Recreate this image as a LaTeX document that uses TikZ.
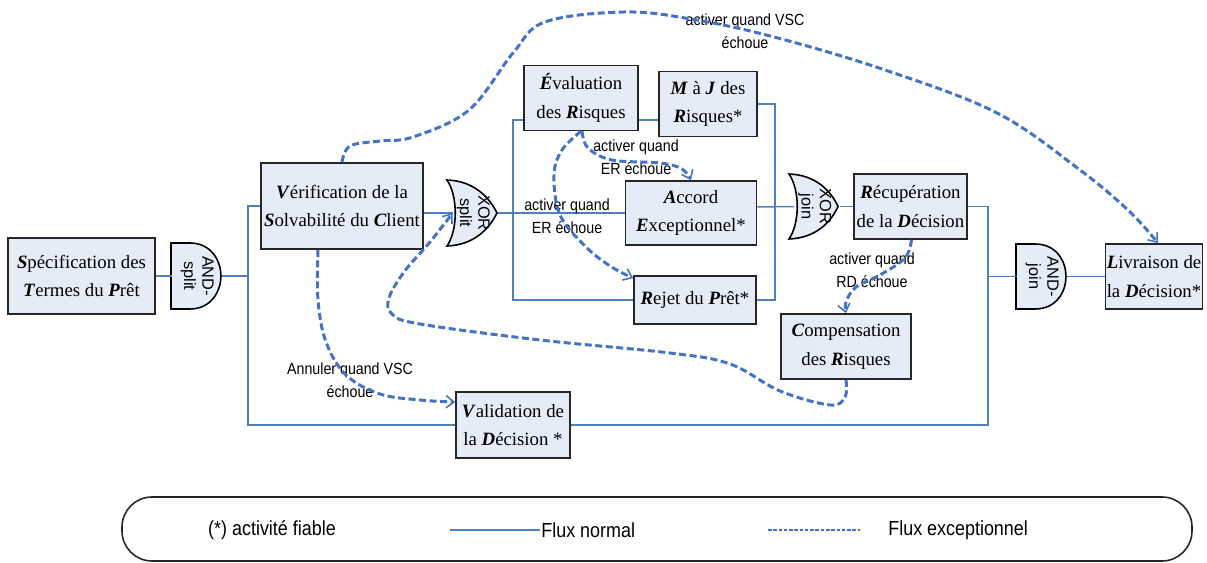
\documentclass[tikz,border=0pt]{standalone}
\usepackage{fontspec}
\setmainfont{Liberation Serif}
\newfontfamily\labfont{Liberation Sans}
\newfontfamily\narrowfont[FakeStretch=0.88]{Liberation Sans}
\usetikzlibrary{arrows.meta,calc}
\definecolor{boxfill}{RGB}{229,236,247}
\definecolor{flow}{RGB}{79,129,189}
\definecolor{exflow}{RGB}{68,114,196}
\newcommand{\bi}[1]{\textbf{\textit{#1}}}
\tikzset{
 act/.style={draw=black!85, line width=0.9pt, fill=boxfill, align=center, inner sep=0pt, font=\fontsize{10.7}{16.4}\selectfont},
 gate/.style={draw=none, minimum width=1cm, minimum height=1.3cm, inner sep=0pt, font=\labfont\fontsize{9.3}{10.4}\selectfont},
 gateshape/.style={draw=black, line width=0.9pt, fill=boxfill},
 norm/.style={draw=flow, line width=0.85pt},
 exc/.style={draw=exflow, line width=1.7pt, dash pattern=on 4pt off 2pt, -{Straight Barb[length=4.5pt,width=7pt,line width=0.9pt]}},
 lab/.style={align=center, inner sep=0pt, font=\narrowfont\fontsize{9.2}{12.8}\selectfont},
 legtext/.style={inner sep=0pt, font=\narrowfont\fontsize{11.6}{13}\selectfont},
}
\newcommand{\gtxt}[2]{\rotatebox{-90}{\begin{tabular}{@{}c@{}}#1\\#2\end{tabular}}}
\begin{document}
\begin{tikzpicture}[x=0.02cm,y=-0.02cm]
\useasboundingbox (0,0) rectangle (1207,563);
% activities
\node[act, minimum width=2.94cm, minimum height=1.52cm] (spec) at (81.5,276) {\bi{S}pécification des\\\bi{T}ermes du \bi{P}rêt};
\node[act, minimum width=3.24cm, minimum height=1.72cm] (vsc) at (342,206) {\bi{V}érification de la\\\bi{S}olvabilité du \bi{C}lient};
\node[act, minimum width=2.28cm, minimum height=1.30cm] (eval) at (581,98) {\bi{É}valuation\\des \bi{R}isques};
\node[act, minimum width=1.96cm, minimum height=1.30cm] (maj) at (708,104) {\bi{M} à \bi{J} des\\\bi{R}isques*};
\node[act, minimum width=2.62cm, minimum height=1.28cm] (acc) at (691,213) {\bi{A}ccord\\\bi{E}xceptionnel*};
\node[act, minimum width=2.44cm, minimum height=0.96cm] (rej) at (695,300) {\bi{R}ejet du \bi{P}rêt*};
\node[act, minimum width=2.26cm, minimum height=1.30cm] (recup) at (910.5,206.5) {\bi{R}écupération\\de la \bi{D}écision};
\node[act, minimum width=2.60cm, minimum height=1.30cm] (comp) at (846,346.5) {\bi{C}ompensation\\des \bi{R}isques};
\node[act, minimum width=2.28cm, minimum height=1.32cm] (valid) at (513,425) {\bi{V}alidation de\\la \bi{D}écision *};
\node[act, minimum width=1.94cm, minimum height=1.30cm] (livr) at (1154,276.5) {\bi{L}ivraison de\\la \bi{D}écision*};
% gate shapes
\path[gateshape] (171,243) -- (190,243) .. controls (212,243) and (221,262) .. (221,276) .. controls (221,290) and (212,309) .. (190,309) -- (171,309) -- cycle;
\path[gateshape] (1016,244) -- (1035,244) .. controls (1057,244) and (1066,262) .. (1066,276.5) .. controls (1066,291) and (1057,309) .. (1035,309) -- (1016,309) -- cycle;
\path[gateshape] (447,180) .. controls (474,181) and (489,197) .. (497,213) .. controls (489,229) and (474,245) .. (447,246) .. controls (458,230) and (458,196) .. (447,180) -- cycle;
\path[gateshape] (789,174) .. controls (816,175) and (831,191) .. (838,206.5) .. controls (831,222) and (816,238) .. (789,239) .. controls (800,223) and (800,190) .. (789,174) -- cycle;
% gate nodes
\node[gate] (andS) at (197,276) {\gtxt{AND-}{split}};
\node[gate] (xorS) at (473,213) {\gtxt{XOR}{split}};
\node[gate] (xorJ) at (814.5,206.5) {\gtxt{XOR}{join}};
\node[gate] (andJ) at (1042,276.5) {\gtxt{AND-}{join}};
% normal flow
\coordinate (b1) at (248,276);
\coordinate (b2) at (513,213);
\coordinate (j) at (775,206.5);
\coordinate (b3) at (988,276.5);
\draw[norm] (spec.east) -- (spec.east -| andS.west);
\draw[norm] (andS.east |- b1) -- (b1);
\draw[norm] (vsc.west) -| (b1) |- (valid.west);
\draw[norm] (vsc.east |- xorS.west) -- ([xshift=0.1cm]xorS.west);
\draw[norm] (xorS.east) -- (acc.west);
\draw[norm] ([yshift=-0.44cm]eval.west) -| (b2) |- (rej.west);
\draw[norm] ([yshift=-0.44cm]eval.east) -- ([yshift=-0.44cm]eval.east -| maj.west);
\draw[norm] (maj.east) -| (j);
\draw[norm] (rej.east) -| (j);
\draw[norm] ([yshift=0.12cm]acc.east) -- ([xshift=0.1cm]xorJ.west);
\draw[norm] (xorJ.east) -- (recup.west);
\draw[norm] (recup.east) -| (b3) |- (valid.east);
\draw[norm] (b3) -- (andJ.west);
\draw[norm] (andJ.east) -- (livr.west);
% labels
\node[lab] (l1) at (745,31) {activer quand VSC\\échoue};
\node[lab] (l2) at (636,157) {activer quand\\ER échoue};
\node[lab] (l3) at (567,216) {activer quand\\ER échoue};
\node[lab] (l4) at (872,270) {activer quand\\RD échoue};
\node[lab] (l5) at (350,380) {Annuler quand VSC\\échoue};
% exceptional flow
\draw[exc] plot[smooth, tension=0.6] coordinates {(vsc.north) (350,146) (380,141) (413,137) (469,110) (513,53) (545,22) (624,12) (691,19) (774,37) (885,70) (997,113) (1080,170) (1130,212) ([xshift=0.08cm]livr.north)};
\draw[exc] plot[smooth, tension=0.6] coordinates {([xshift=0.02cm]eval.south) (588,148) (612,160) (660,163) (682,169) (acc.north)};
\draw[exc] plot[smooth, tension=0.6] coordinates {(eval.south) (562,150) (554,175) (560,215) (585,246) (610,266) ([yshift=-0.06cm]rej.north west)};
\draw[exc] plot[smooth, tension=0.6] coordinates {(comp.south) (845,397) (830,405) (780,391) (730,364) (670,353) (540,340) (420,324) (392,314) (389,298) (404,272) (430,242) ([xshift=0.1cm]xorS.west)};
\draw[exc] plot[smooth, tension=0.6] coordinates {([xshift=0.02cm]recup.south) (905,258) (880,275) (856,287) (846,302) (comp.north)};
\draw[exc] plot[smooth, tension=0.6] coordinates {([xshift=-0.48cm]vsc.south) (318,300) (326,342) (346,375) (380,394) (420,400) ([yshift=0.46cm]valid.west)};
% legend
\draw[black!85, line width=0.9pt, rounded corners=0.6cm] (122,497) rectangle (1192,561);
\node[legtext] (lg1) at (272,530) {(*) activité fiable};
\draw[norm] (450,530) -- (540,530);
\node[legtext, anchor=west] (lg2) at (541,530) {Flux normal};
\draw[draw=exflow, line width=1.6pt, dash pattern=on 2pt off 1pt] (768,530) -- (860,530);
\node[legtext, anchor=west] (lg3) at (888,530) {Flux exceptionnel};
\end{tikzpicture}
\end{document}
